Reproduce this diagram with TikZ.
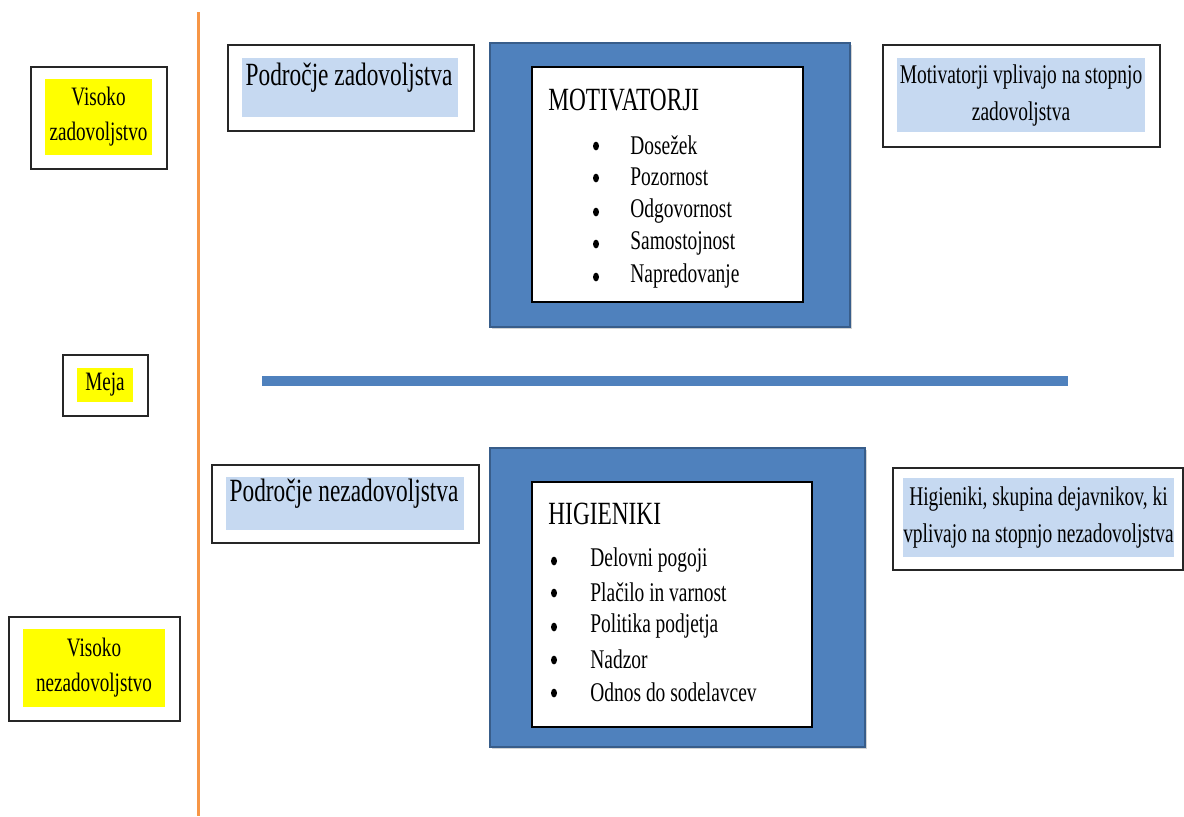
\documentclass[tikz,border=0pt]{standalone}
\usepackage{fontspec}
\setmainfont{Liberation Serif}[FakeStretch=0.72]
\usepackage{tikz}
\usetikzlibrary{shapes,shadows}
\definecolor{hlyellow}{HTML}{FFFF00}
\definecolor{paleblue}{HTML}{C6D9F1}
\definecolor{panelblue}{HTML}{4F81BD}
\definecolor{paneledge}{HTML}{385D8A}
\definecolor{axisorange}{HTML}{F79646}
\tikzstyle{frame}=[draw=black!85,line width=0.8pt,fill=white,inner sep=0pt]
\tikzstyle{yellowbox}=[fill=hlyellow,inner sep=0pt,align=center,font=\fontsize{13.3}{17.5}\selectfont]
\tikzstyle{bluebg}=[fill=paleblue,inner sep=0pt,align=center,font=\fontsize{13.5}{18.5}\selectfont]
\tikzstyle{panel}=[draw=paneledge,line width=1.2pt,fill=panelblue,inner sep=0pt,
  drop shadow={opacity=0.35,shadow xshift=1pt,shadow yshift=-1pt}]
\tikzstyle{listbox}=[draw=black,line width=0.8pt,fill=white,inner sep=0pt]
\tikzstyle{heading}=[anchor=west,inner sep=0pt,font=\fontsize{16.2}{18}\selectfont]
\tikzstyle{area}=[inner sep=0pt,font=\fontsize{16.2}{18}\selectfont]
\tikzstyle{item}=[anchor=west,inner sep=0pt,font=\fontsize{13.5}{16}\selectfont]
\tikzstyle{dotmark}=[ellipse,fill=black,inner sep=0pt,minimum width=3pt,minimum height=4.4pt]

\begin{document}
\begin{tikzpicture}[x=0.5pt,y=-0.5pt]
    \useasboundingbox (0,0) rectangle (1184,816);
    % The axis on the left
    \coordinate (axistop) at (198,12);
    \coordinate (axisbot) at (198,816);
    \draw[axisorange,line width=1.5pt] (axistop) -- (axisbot);

    % Levels along the axis
    \node[frame,minimum width=68pt,minimum height=51pt] (highframe) at (99,118) {};
    \node[yellowbox,minimum width=53.5pt,minimum height=38pt] (high) at (98.5,117) {Visoko\\zadovoljstvo};
    \node[frame,minimum width=42.5pt,minimum height=30.5pt] (limitframe) at (105.5,385.5) {};
    \node[yellowbox,minimum width=28pt,minimum height=17pt] (limit) at (105,385) {Meja};
    \node[frame,minimum width=85.5pt,minimum height=52pt] (lowframe) at (94.5,669) {};
    \node[yellowbox,minimum width=71pt,minimum height=39pt] (low) at (94,668) {Visoko\\nezadovoljstvo};

    % Areas
    \node[frame,minimum width=123pt,minimum height=43pt] (satframe) at (351,88) {};
    \node[bluebg,minimum width=108pt,minimum height=29.5pt] (satbg) at (350,87.5) {};
    \node[area] (sat) at (349,78) {Področje zadovoljstva};
    \node[frame,minimum width=133.5pt,minimum height=39pt] (dissatframe) at (345.5,504) {};
    \node[bluebg,minimum width=119pt,minimum height=26.5pt] (dissatbg) at (345,503.5) {};
    \node[area] (dissat) at (344,494) {Področje nezadovoljstva};

    % Motivators
    \node[panel,minimum width=180pt,minimum height=142pt] (motpanel) at (670,185) {};
    \node[listbox,minimum width=135.5pt,minimum height=117.5pt] (motlist) at (667.5,184.5) {};
    \node[heading] (mottitle) at (548,100) {MOTIVATORJI};
    \foreach \y/\name/\txt in {145/m1/Dosežek, 177/m2/Pozornost, 211/m3/Odgovornost,
        243/m4/Samostojnost, 276/m5/Napredovanje} {
        \node[dotmark] (dot\name) at (596,\y+1) {};
        \node[item] (\name) at (630,\y) {\txt};
    }

    % The border line
    \coordinate (limitleft) at (262,381);
    \coordinate (limitright) at (1068,381);
    \draw[black!30,line width=5pt,xshift=1pt,yshift=-1.5pt] (limitleft) -- (limitright);
    \draw[panelblue,line width=5pt] (limitleft) -- (limitright);

    % Hygiene factors
    \node[panel,minimum width=187.5pt,minimum height=149.5pt] (hygpanel) at (677.5,597.5) {};
    \node[listbox,minimum width=140pt,minimum height=122.5pt] (hyglist) at (672,604.5) {};
    \node[heading] (hygtitle) at (548,514) {HIGIENIKI};
    \foreach \y/\name/\txt in {560/h1/Delovni pogoji, 592/h2/Plačilo in varnost,
        626/h3/Politika podjetja, 659/h4/Nadzor, 692/h5/Odnos do sodelavcev} {
        \node[dotmark] (dot\name) at (554,\y+1) {};
        \node[item] (\name) at (590,\y) {\txt};
    }

    % Notes on the right
    \node[frame,minimum width=138.5pt,minimum height=51pt] (motnoteframe) at (1021.5,96) {};
    \node[bluebg,minimum width=124pt,minimum height=37pt] (motnote) at (1021,95)
        {Motivatorji vplivajo na stopnjo\\zadovoljstva};
    \node[frame,minimum width=145pt,minimum height=51pt] (hygnoteframe) at (1038,519) {};
    \node[bluebg,minimum width=131.5pt,minimum height=39.5pt] (hygnote) at (1038.5,517.5)
        {Higieniki, skupina dejavnikov, ki\\vplivajo na stopnjo nezadovoljstva};
\end{tikzpicture}
\end{document}
